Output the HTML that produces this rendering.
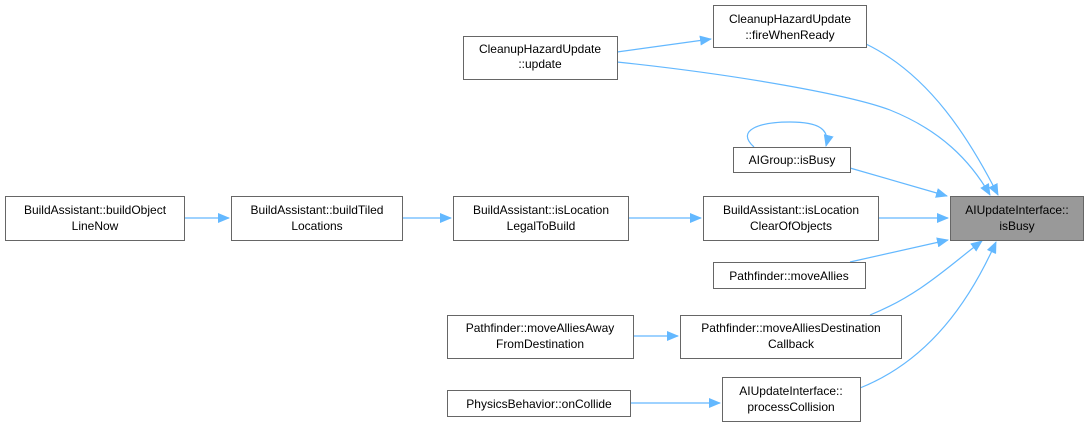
<!DOCTYPE html>
<html><head><style>body{margin:0;background:#fff}svg{display:block}text{font-family:"Liberation Sans",sans-serif;font-size:12px;fill:#000;text-anchor:middle}</style></head><body>
<svg width="1088" height="429" viewBox="0 0 1088 429">
<defs><marker id="a" markerWidth="12" markerHeight="10" refX="11" refY="5" orient="auto" markerUnits="userSpaceOnUse"><path d="M0,0 L12,5 L0,10 z" fill="#63b8ff"/></marker></defs>
<g fill="none" stroke="#63b8ff" stroke-width="1.2" marker-end="url(#a)">
<path d="M617,52 L711,39"/>
<path d="M866,44 C930,75 970,140 998,195"/>
<path d="M617,62 C740,75 850,95 890,110 C940,130 970,160 990,195"/>
<path d="M850,168 L947,196"/>
<path d="M754,147 C735,130 760,122 790,122 C820,122 830,130 826,146"/>
<path d="M878,218 L948,218"/>
<path d="M628,218 L701,218"/>
<path d="M402,218 L451,218"/>
<path d="M184,218 L229,218"/>
<path d="M850,262 L948,240"/>
<path d="M870,315 C920,295 950,265 982,241"/>
<path d="M860,388 C930,360 970,300 996,242"/>
<path d="M633,336 L678,336"/>
<path d="M630,403 L720,403"/>
</g>
<g stroke="#666" stroke-width="1" fill="#fff">
<rect x="713.5" y="5.5" width="153" height="42"/>
<rect x="463.5" y="36.5" width="154" height="43"/>
<rect x="733.5" y="147.5" width="117" height="25"/>
<rect x="703.5" y="196.5" width="175" height="44"/>
<rect x="950.5" y="196.5" width="133" height="44" fill="#999"/>
<rect x="453.5" y="196.5" width="175" height="44"/>
<rect x="231.5" y="196.5" width="171" height="44"/>
<rect x="5.5" y="196.5" width="179" height="44"/>
<rect x="713.5" y="262.5" width="152" height="26"/>
<rect x="447.5" y="315.5" width="186" height="43"/>
<rect x="680.5" y="315.5" width="221" height="43"/>
<rect x="447.5" y="390.5" width="183" height="26"/>
<rect x="722.5" y="377.5" width="138" height="44"/>
</g>
<text x="790" y="23">CleanupHazardUpdate</text><text x="790" y="39">::fireWhenReady</text>
<text x="540" y="53">CleanupHazardUpdate</text><text x="540" y="68">::update</text>
<text x="792" y="164">AIGroup::isBusy</text>
<text x="791" y="214">BuildAssistant::isLocation</text><text x="791" y="230">ClearOfObjects</text>
<text x="1017" y="214">AIUpdateInterface::</text><text x="1017" y="230">isBusy</text>
<text x="541" y="214">BuildAssistant::isLocation</text><text x="541" y="230">LegalToBuild</text>
<text x="317" y="214">BuildAssistant::buildTiled</text><text x="317" y="230">Locations</text>
<text x="95" y="214">BuildAssistant::buildObject</text><text x="95" y="230">LineNow</text>
<text x="789" y="280">Pathfinder::moveAllies</text>
<text x="540" y="332">Pathfinder::moveAlliesAway</text><text x="540" y="348">FromDestination</text>
<text x="791" y="332">Pathfinder::moveAlliesDestination</text><text x="791" y="348">Callback</text>
<text x="539" y="408">PhysicsBehavior::onCollide</text>
<text x="791" y="395">AIUpdateInterface::</text><text x="791" y="411">processCollision</text>
</svg>
</body></html>
